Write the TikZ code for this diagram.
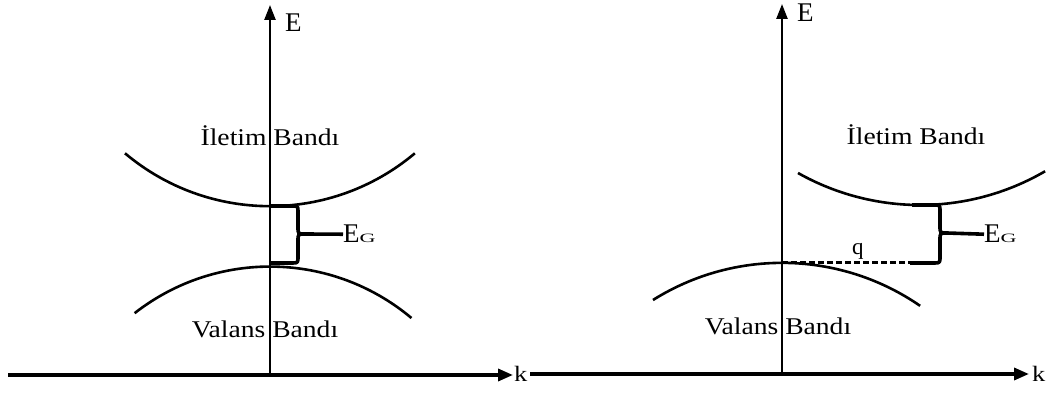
\documentclass[tikz,border=0pt]{standalone}
\usepackage{fontspec}
\setmainfont{Liberation Serif}
\usepackage{graphicx}
\usetikzlibrary{arrows.meta}
\newcommand{\wider}[2]{\scalebox{#1}[1]{#2}}

\begin{document}
\begin{tikzpicture}[x=1pt, y=-1pt,
    axis/.style={line width=2.4pt, -{Triangle[length=15pt, width=11pt]}},
    kaxis/.style={line width=3.4pt, -{Triangle[length=15pt, width=12pt]}},
    band/.style={line width=2.6pt},
    gap/.style={line width=3.6pt, line join=round},
    lbl/.style={inner sep=0pt, anchor=base, font=\fontsize{24}{26}\selectfont},
    axlbl/.style={inner sep=0pt, anchor=base west, font=\fontsize{27}{30}\selectfont}]
    \useasboundingbox (0,0) rectangle (1047,419);

    % Axes, left diagram
    \coordinate (o1) at (270,375);
    \coordinate (e1) at (270,5);
    \coordinate (ks1) at (8,375);
    \coordinate (ke1) at (513,375);
    \draw[axis] (o1) -- (e1);
    \draw[kaxis] (ks1) -- (ke1);
    \node[axlbl] (elbl1) at (285,32) {E};
    \node[axlbl, font=\fontsize{22}{24}\selectfont] (klbl1) at (514,382) {\wider{1.2}{k}};

    % Axes, right diagram
    \coordinate (o2) at (782,374);
    \coordinate (e2) at (782,4);
    \coordinate (ks2) at (530,374);
    \coordinate (ke2) at (1029,374);
    \draw[axis] (o2) -- (e2);
    \draw[kaxis] (ks2) -- (ke2);
    \node[axlbl] (elbl2) at (797,22) {E};
    \node[axlbl, font=\fontsize{22}{24}\selectfont] (klbl2) at (1032,382) {\wider{1.2}{k}};

    % Bands, left
    \draw[band] (125,153.3) arc[start angle=130.1, end angle=49.9, radius=225];
    \draw[band] (134.6,313.2) arc[start angle=232, end angle=310, radius=220];

    % Bands, right
    \draw[band] (798,173) arc[start angle=119.4, end angle=59.8, radius=248.6];
    \draw[band] (653,300) arc[start angle=237.9, end angle=304.6, radius=243];

    % Band labels
    \node[lbl] (cb1) at (270,146) {\wider{1.15}{İletim Bandı}};
    \node[lbl] (vb1) at (265,338) {\wider{1.15}{Valans Bandı}};
    \node[lbl] (cb2) at (916,145) {\wider{1.15}{İletim Bandı}};
    \node[lbl] (vb2) at (778,335) {\wider{1.15}{Valans Bandı}};

    % Gap, left
    \coordinate (cmin1) at (270,206);
    \coordinate (vmax1) at (270,263);
    \coordinate (tip1) at (305,234);
    \draw[gap] (cmin1) -- (292,206) .. controls (298,206) .. (298,212) -- (298,227)
        .. controls (298,234) .. (tip1) .. controls (298,234) .. (298,241) -- (298,256)
        .. controls (298,263) .. (292,263) -- (vmax1);
    \node[axlbl] (eg1) at (343,243) {E\scalebox{1.3}[0.75]{\fontsize{17}{18}\selectfont G}};
    \draw[gap] (tip1) -- (eg1.west);

    % Gap, right
    \coordinate (cmin2) at (912,205);
    \coordinate (vmax2) at (782,263);
    \coordinate (qend) at (910,263);
    \coordinate (tip2) at (947,233);
    \draw[line width=3pt, dash pattern=on 6pt off 3pt] (vmax2) -- (qend);
    \draw[gap] (cmin2) -- (934,205) .. controls (940,205) .. (940,211) -- (940,226)
        .. controls (940,233) .. (tip2) .. controls (940,233) .. (940,240) -- (940,256)
        .. controls (940,263) .. (934,263) -- (qend);
    \node[axlbl, font=\fontsize{23}{24}\selectfont] (q) at (852,255) {q};
    \node[axlbl] (eg2) at (984,243) {E\scalebox{1.3}[0.75]{\fontsize{17}{18}\selectfont G}};
    \draw[gap] (tip2) -- (eg2.west);
\end{tikzpicture}
\end{document}
